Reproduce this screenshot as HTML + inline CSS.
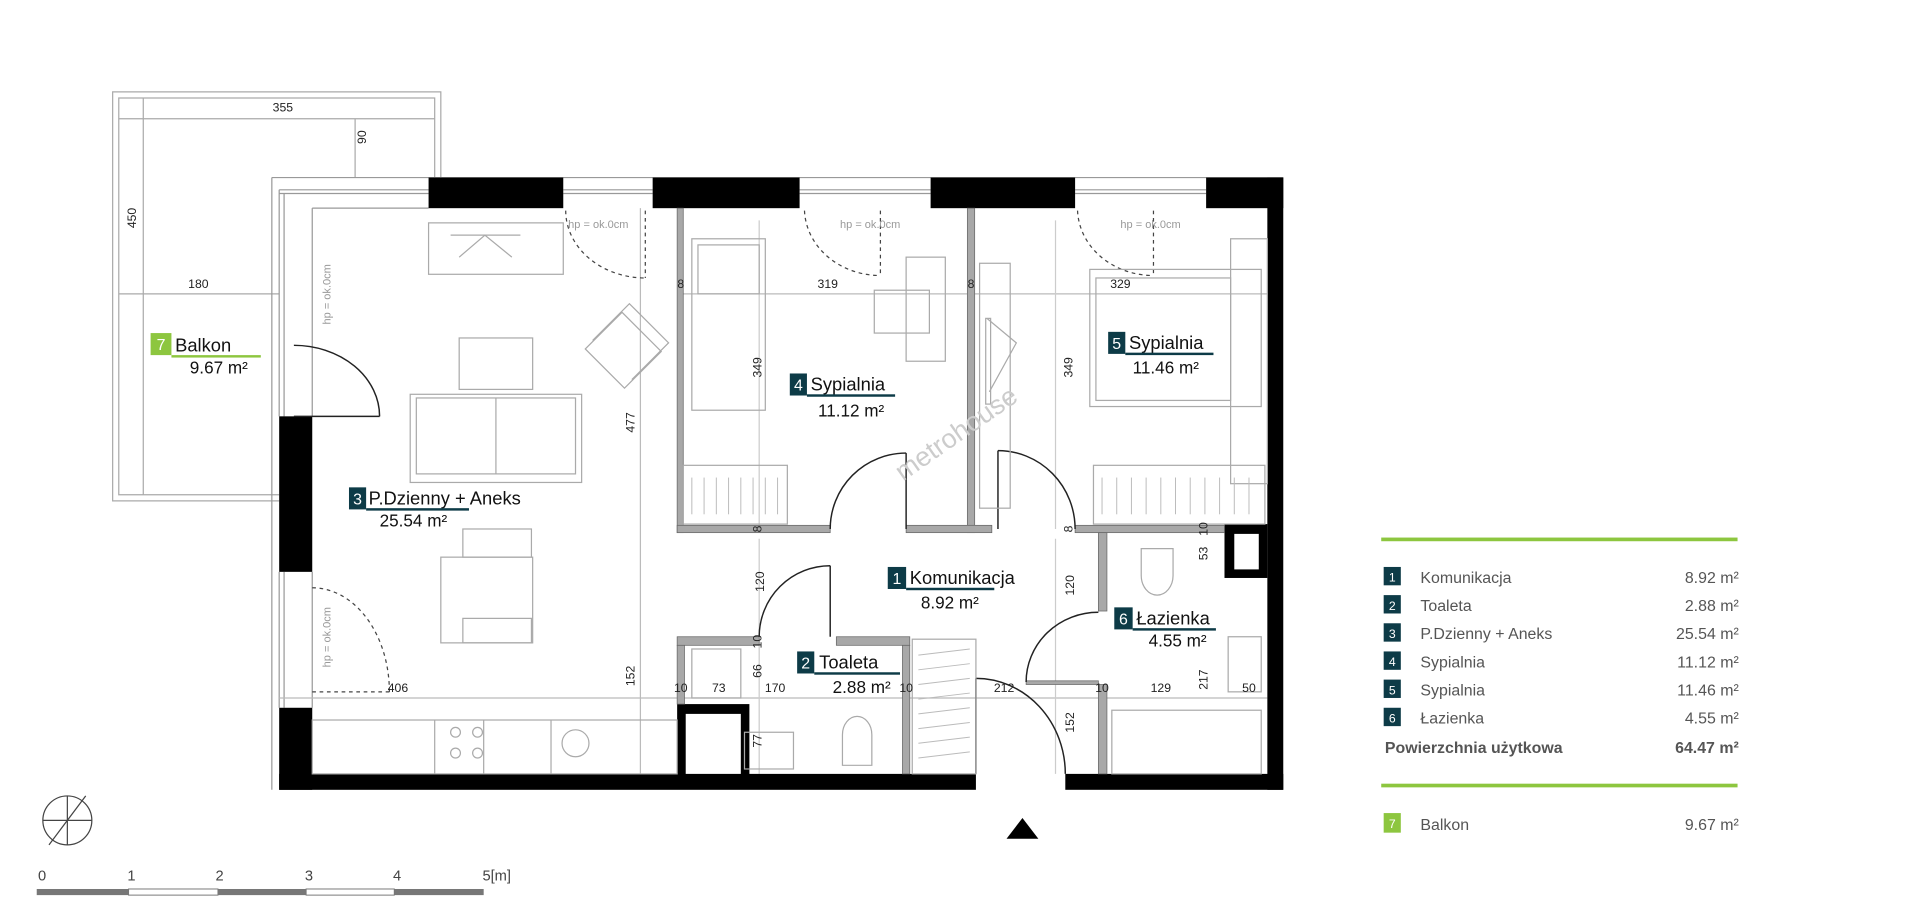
<!DOCTYPE html>
<html><head><meta charset="utf-8"><style>
html,body{margin:0;padding:0;background:#fff;}
svg{display:block;}
text{font-family:"Liberation Sans",sans-serif;}
</style></head><body>
<svg width="1920" height="913" viewBox="0 0 1568 745.6" xmlns="http://www.w3.org/2000/svg">
<rect width="1568" height="746" fill="#fff"/>
<!-- Balcony -->
<g fill="none" stroke="#aaa" stroke-width="1">
<path d="M228 409 H92 V75 H360 V145"/>
<path d="M228 404 H97 V80 H355 V145"/>
<line x1="117" y1="80" x2="117" y2="404"/>
<line x1="97" y1="97" x2="355" y2="97"/>
<line x1="290" y1="97" x2="290" y2="145"/>
<line x1="97" y1="240" x2="228" y2="240"/>
</g>
<g font-size="10" fill="#222">
<text x="231" y="91" text-anchor="middle">355</text>
<text x="162" y="235" text-anchor="middle">180</text>
<text transform="translate(299,112) rotate(-90)" text-anchor="middle">90</text>
<text transform="translate(111,178) rotate(-90)" text-anchor="middle">450</text>
</g>
<!-- windows / thin outer lines -->
<g fill="none" stroke="#999" stroke-width="1">
<line x1="222" y1="145" x2="1048" y2="145"/>
<line x1="222" y1="145" x2="222" y2="645"/>
<line x1="228" y1="155" x2="350" y2="155"/><line x1="228" y1="158" x2="350" y2="158"/>
<line x1="460" y1="155" x2="533" y2="155"/><line x1="460" y1="158" x2="533" y2="158"/>
<line x1="653" y1="155" x2="760" y2="155"/><line x1="653" y1="158" x2="760" y2="158"/>
<line x1="878" y1="155" x2="985" y2="155"/><line x1="878" y1="158" x2="985" y2="158"/>
<line x1="228" y1="155" x2="228" y2="340"/><line x1="232" y1="158" x2="232" y2="340"/>
<line x1="228" y1="467" x2="228" y2="578"/><line x1="232" y1="467" x2="232" y2="578"/>
<line x1="255" y1="170" x2="350" y2="170"/>
<line x1="255" y1="170" x2="255" y2="340"/>
<line x1="255" y1="467" x2="255" y2="578"/>
<!-- dimension lines -->
<line x1="228" y1="570" x2="1035" y2="570" stroke="#bbb"/>
<line x1="523" y1="170" x2="523" y2="632" stroke="#bbb"/>
<line x1="553" y1="240" x2="1035" y2="240" stroke="#bbb"/>
<line x1="620" y1="180" x2="620" y2="432" stroke="#ccc"/>
<line x1="862" y1="180" x2="862" y2="432" stroke="#ccc"/>
<line x1="620" y1="440" x2="620" y2="632" stroke="#ccc"/>
<line x1="862" y1="440" x2="862" y2="632" stroke="#ccc"/>
</g>
<!-- black walls -->
<g fill="#000">
<rect x="350" y="145" width="110" height="25"/>
<rect x="533" y="145" width="120" height="25"/>
<rect x="760" y="145" width="118" height="25"/>
<rect x="985" y="145" width="63" height="25"/>
<rect x="1035" y="145" width="13" height="500"/>
<rect x="228" y="340" width="27" height="127"/>
<rect x="228" y="578" width="27" height="67"/>
<rect x="228" y="632" width="569" height="13"/>
<rect x="870" y="632" width="178" height="13"/>
<rect x="1000" y="428" width="35" height="44"/>
<rect x="553" y="575" width="59" height="60"/>
</g>
<rect x="1008" y="436" width="20" height="29" fill="#fff"/>
<rect x="560" y="583" width="45" height="49" fill="#fff"/>
<!-- gray interior walls -->
<g fill="#a8a8a8" stroke="#666" stroke-width="0.6">
<rect x="553" y="170" width="5" height="265"/>
<rect x="790" y="170" width="6" height="265"/>
<rect x="553" y="429" width="125" height="6"/>
<rect x="740" y="429" width="70" height="6"/>
<rect x="878" y="429" width="122" height="6"/>
<rect x="897" y="435" width="7" height="64"/>
<rect x="897" y="559" width="7" height="73"/>
<rect x="838" y="556" width="59" height="3"/>
<rect x="553" y="520" width="67" height="7"/>
<rect x="683" y="520" width="60" height="7"/>
<rect x="553" y="527" width="6" height="48"/>
<rect x="737" y="527" width="6" height="105"/>
</g>
<!-- doors -->
<g fill="none" stroke="#222" stroke-width="1.2">
<path d="M240 282 A70 58 0 0 1 310 340"/><line x1="240" y1="340" x2="310" y2="340"/>
<path d="M740 370 A62 62 0 0 0 678 432"/><line x1="740" y1="370" x2="740" y2="432"/>
<path d="M815 368 A63 64 0 0 1 878 432"/><line x1="815" y1="368" x2="815" y2="432"/>
<path d="M678 462 A58 58 0 0 0 620 520"/><line x1="678" y1="462" x2="678" y2="520"/>
<path d="M897 500 A59 57 0 0 0 838 557"/>
<path d="M797 554 A73 78 0 0 1 870 632"/><line x1="797" y1="554" x2="797" y2="632"/>
</g>
<g fill="none" stroke="#444" stroke-width="1" stroke-dasharray="3,3">
<path d="M462 172 A65 55 0 0 0 527 227"/><line x1="527" y1="172" x2="527" y2="227"/>
<path d="M657 172 A62 55 0 0 0 719 225"/><line x1="719" y1="172" x2="719" y2="225"/>
<path d="M880 172 A62 55 0 0 0 942 225"/><line x1="942" y1="172" x2="942" y2="225"/>
<path d="M255 480 A63 85 0 0 1 318 565"/><line x1="255" y1="565" x2="318" y2="565"/>
</g>
<g font-size="9" fill="#999">
<text x="464" y="186">hp = ok.0cm</text>
<text x="686" y="186">hp = ok.0cm</text>
<text x="915" y="186">hp = ok.0cm</text>
<text transform="translate(270,265) rotate(-90)">hp = ok.0cm</text>
<text transform="translate(270,545) rotate(-90)">hp = ok.0cm</text>
</g>
<!-- furniture -->
<g fill="none" stroke="#aaa" stroke-width="1">
<rect x="350" y="182" width="110" height="42"/>
<line x1="368" y1="192" x2="425" y2="192"/><path d="M375 210 L396 192 L418 210"/>
<rect x="375" y="276" width="60" height="42"/>
<rect x="335" y="322" width="140" height="72"/><rect x="340" y="325" width="130" height="62"/><line x1="405" y1="325" x2="405" y2="387"/>
<path d="M478 285 L508 255 L540 287 L510 317 Z"/><path d="M484 278 L514 248 L546 280 L516 310"/>
<rect x="360" y="455" width="75" height="70"/><rect x="378" y="432" width="56" height="23"/><rect x="378" y="505" width="56" height="20"/>
<rect x="255" y="588" width="298" height="44"/><line x1="355" y1="588" x2="355" y2="632"/><line x1="395" y1="588" x2="395" y2="632"/><line x1="450" y1="588" x2="450" y2="632"/>
<circle cx="372" cy="598" r="4"/><circle cx="390" cy="598" r="4"/><circle cx="372" cy="615" r="4"/><circle cx="390" cy="615" r="4"/>
<circle cx="470" cy="607" r="11"/>
<rect x="565" y="195" width="60" height="140"/><rect x="570" y="200" width="50" height="40"/>
<rect x="714" y="237" width="45" height="35"/><rect x="740" y="210" width="32" height="85"/>
<rect x="558" y="380" width="85" height="48"/>
<rect x="800" y="215" width="25" height="200"/><rect x="805" y="260" width="4" height="70"/>
<path d="M806 260 L830 280 L808 320"/>
<rect x="890" y="220" width="140" height="112"/><rect x="895" y="227" width="110" height="100"/>
<rect x="1005" y="195" width="30" height="200"/>
<rect x="893" y="380" width="140" height="48"/>
<rect x="745" y="522" width="52" height="110"/>
<rect x="908" y="580" width="122" height="52"/>
<rect x="1003" y="520" width="27" height="45"/>
<rect x="565" y="530" width="40" height="40"/>
<rect x="608" y="598" width="40" height="30"/><path d="M688 625 V600 A12 15 0 0 1 712 600 V625 Z"/>
<path d="M932 448 H958 V470 A13 16 0 0 1 932 470 Z"/>
</g>
<g stroke="#bbb" stroke-width="0.8">
<line x1="565" y1="390" x2="565" y2="420"/><line x1="575" y1="390" x2="575" y2="420"/><line x1="585" y1="390" x2="585" y2="420"/><line x1="595" y1="390" x2="595" y2="420"/><line x1="605" y1="390" x2="605" y2="420"/><line x1="615" y1="390" x2="615" y2="420"/><line x1="625" y1="390" x2="625" y2="420"/><line x1="635" y1="390" x2="635" y2="420"/>
<line x1="900" y1="390" x2="900" y2="420"/><line x1="912" y1="390" x2="912" y2="420"/><line x1="924" y1="390" x2="924" y2="420"/><line x1="936" y1="390" x2="936" y2="420"/><line x1="948" y1="390" x2="948" y2="420"/><line x1="960" y1="390" x2="960" y2="420"/><line x1="972" y1="390" x2="972" y2="420"/><line x1="984" y1="390" x2="984" y2="420"/><line x1="996" y1="390" x2="996" y2="420"/><line x1="1008" y1="390" x2="1008" y2="420"/><line x1="1020" y1="390" x2="1020" y2="420"/>
<line x1="750" y1="535" x2="792" y2="530"/><line x1="750" y1="547" x2="792" y2="542"/><line x1="750" y1="559" x2="792" y2="554"/><line x1="750" y1="571" x2="792" y2="566"/><line x1="750" y1="583" x2="792" y2="578"/><line x1="750" y1="595" x2="792" y2="590"/><line x1="750" y1="607" x2="792" y2="602"/><line x1="750" y1="619" x2="792" y2="614"/>
</g>
<!-- dimension texts -->
<g font-size="10" fill="#222">
<text x="325" y="565" text-anchor="middle">406</text>
<text x="556" y="565" text-anchor="middle">10</text>
<text x="587" y="565" text-anchor="middle">73</text>
<text x="633" y="565" text-anchor="middle">170</text>
<text x="740" y="565" text-anchor="middle">10</text>
<text x="820" y="565" text-anchor="middle">212</text>
<text x="900" y="565" text-anchor="middle">10</text>
<text x="948" y="565" text-anchor="middle">129</text>
<text x="1020" y="565" text-anchor="middle">50</text>
<text x="676" y="235" text-anchor="middle">319</text>
<text x="915" y="235" text-anchor="middle">329</text>
<text x="556" y="235" text-anchor="middle">8</text>
<text x="793" y="235" text-anchor="middle">8</text>
<g text-anchor="middle">
<text transform="translate(518,345) rotate(-90)">477</text>
<text transform="translate(518,552) rotate(-90)">152</text>
<text transform="translate(622,300) rotate(-90)">349</text>
<text transform="translate(876,300) rotate(-90)">349</text>
<text transform="translate(624,475) rotate(-90)">120</text>
<text transform="translate(877,478) rotate(-90)">120</text>
<text transform="translate(877,590) rotate(-90)">152</text>
<text transform="translate(622,548) rotate(-90)">66</text>
<text transform="translate(622,605) rotate(-90)">77</text>
<text transform="translate(622,524) rotate(-90)">10</text>
<text transform="translate(622,432) rotate(-90)">8</text>
<text transform="translate(876,432) rotate(-90)">8</text>
<text transform="translate(986,432) rotate(-90)">10</text>
<text transform="translate(986,452) rotate(-90)">53</text>
<text transform="translate(986,555) rotate(-90)">217</text>
</g>
</g>
<text transform="translate(785,360) rotate(-35)" font-size="22" fill="#ccc" text-anchor="middle">metrohouse</text>
<!-- room labels -->
<g font-size="15" fill="#111">
<rect x="123" y="272" width="17" height="18" fill="#8dc63f"/><text x="131.5" y="286" fill="#fff" text-anchor="middle" font-size="13">7</text>
<text x="143" y="287">Balkon</text><rect x="140" y="290" width="73" height="2" fill="#8dc63f"/>
<text x="155" y="305" font-size="14">9.67 m²</text>
<rect x="285" y="398" width="14" height="18" fill="#0d3b47"/><text x="292" y="412" fill="#fff" text-anchor="middle" font-size="13">3</text>
<text x="301" y="412">P.Dzienny + Aneks</text><rect x="299" y="415" width="84" height="2" fill="#0d3b47"/>
<text x="310" y="430" font-size="14">25.54 m²</text>
<rect x="645" y="305" width="14" height="18" fill="#0d3b47"/><text x="652" y="319" fill="#fff" text-anchor="middle" font-size="13">4</text>
<text x="662" y="319">Sypialnia</text><rect x="659" y="322" width="72" height="2" fill="#0d3b47"/>
<text x="668" y="340" font-size="14">11.12 m²</text>
<rect x="905" y="271" width="14" height="18" fill="#0d3b47"/><text x="912" y="285" fill="#fff" text-anchor="middle" font-size="13">5</text>
<text x="922" y="285">Sypialnia</text><rect x="919" y="288" width="72" height="2" fill="#0d3b47"/>
<text x="925" y="305" font-size="14">11.46 m²</text>
<rect x="725" y="463" width="15" height="18" fill="#0d3b47"/><text x="732.5" y="477" fill="#fff" text-anchor="middle" font-size="13">1</text>
<text x="743" y="477">Komunikacja</text><rect x="740" y="480" width="72" height="2" fill="#0d3b47"/>
<text x="752" y="497" font-size="14">8.92 m²</text>
<rect x="651" y="532" width="14" height="18" fill="#0d3b47"/><text x="658" y="546" fill="#fff" text-anchor="middle" font-size="13">2</text>
<text x="669" y="546">Toaleta</text><rect x="665" y="549" width="70" height="2" fill="#0d3b47"/>
<text x="680" y="566" font-size="14">2.88 m²</text>
<rect x="910" y="496" width="15" height="18" fill="#0d3b47"/><text x="917.5" y="510" fill="#fff" text-anchor="middle" font-size="13">6</text>
<text x="928" y="510">Łazienka</text><rect x="925" y="513" width="68" height="2" fill="#0d3b47"/>
<text x="938" y="528" font-size="14">4.55 m²</text>
</g>
<!-- entrance -->
<polygon points="835,668 822,685 848,685" fill="#000"/>
<!-- compass -->
<g fill="none" stroke="#444" stroke-width="1">
<circle cx="55" cy="670" r="20"/><line x1="35" y1="670" x2="75" y2="670"/><line x1="55" y1="650" x2="55" y2="690"/>
<line x1="40" y1="690" x2="70" y2="650"/>
</g>
<!-- scale -->
<g>
<rect x="30" y="726" width="75" height="5" fill="#777"/>
<rect x="105" y="726" width="73" height="5" fill="#fff" stroke="#777" stroke-width="0.8"/>
<rect x="178" y="726" width="72" height="5" fill="#777"/>
<rect x="250" y="726" width="72" height="5" fill="#fff" stroke="#777" stroke-width="0.8"/>
<rect x="322" y="726" width="73" height="5" fill="#777"/>
<g font-size="12" fill="#444">
<text x="31" y="719">0</text><text x="104" y="719">1</text><text x="176" y="719">2</text><text x="249" y="719">3</text><text x="321" y="719">4</text><text x="394" y="719">5[m]</text>
</g>
</g>
<!-- legend -->
<rect x="1128" y="439" width="291" height="3" fill="#8dc63f"/>
<rect x="1128" y="640" width="291" height="3" fill="#8dc63f"/>
<g font-size="13" fill="#555">
<rect x="1130" y="463" width="14" height="15" fill="#0d3b47"/><text x="1137" y="475" fill="#fff" font-size="10" text-anchor="middle">1</text>
<text x="1160" y="476">Komunikacja</text><text x="1420" y="476" text-anchor="end">8.92 m²</text>
<rect x="1130" y="486" width="14" height="15" fill="#0d3b47"/><text x="1137" y="498" fill="#fff" font-size="10" text-anchor="middle">2</text>
<text x="1160" y="499">Toaleta</text><text x="1420" y="499" text-anchor="end">2.88 m²</text>
<rect x="1130" y="509" width="14" height="15" fill="#0d3b47"/><text x="1137" y="521" fill="#fff" font-size="10" text-anchor="middle">3</text>
<text x="1160" y="522">P.Dzienny + Aneks</text><text x="1420" y="522" text-anchor="end">25.54 m²</text>
<rect x="1130" y="532" width="14" height="15" fill="#0d3b47"/><text x="1137" y="544" fill="#fff" font-size="10" text-anchor="middle">4</text>
<text x="1160" y="545">Sypialnia</text><text x="1420" y="545" text-anchor="end">11.12 m²</text>
<rect x="1130" y="555" width="14" height="15" fill="#0d3b47"/><text x="1137" y="567" fill="#fff" font-size="10" text-anchor="middle">5</text>
<text x="1160" y="568">Sypialnia</text><text x="1420" y="568" text-anchor="end">11.46 m²</text>
<rect x="1130" y="578" width="14" height="15" fill="#0d3b47"/><text x="1137" y="590" fill="#fff" font-size="10" text-anchor="middle">6</text>
<text x="1160" y="591">Łazienka</text><text x="1420" y="591" text-anchor="end">4.55 m²</text>
<text x="1131" y="615" font-weight="bold">Powierzchnia użytkowa</text><text x="1420" y="615" text-anchor="end" font-weight="bold">64.47 m²</text>
<rect x="1130" y="664" width="14" height="16" fill="#8dc63f"/><text x="1137" y="676" fill="#fff" font-size="10" text-anchor="middle">7</text>
<text x="1160" y="678">Balkon</text><text x="1420" y="678" text-anchor="end">9.67 m²</text>
</g>
</svg>
</body></html>
